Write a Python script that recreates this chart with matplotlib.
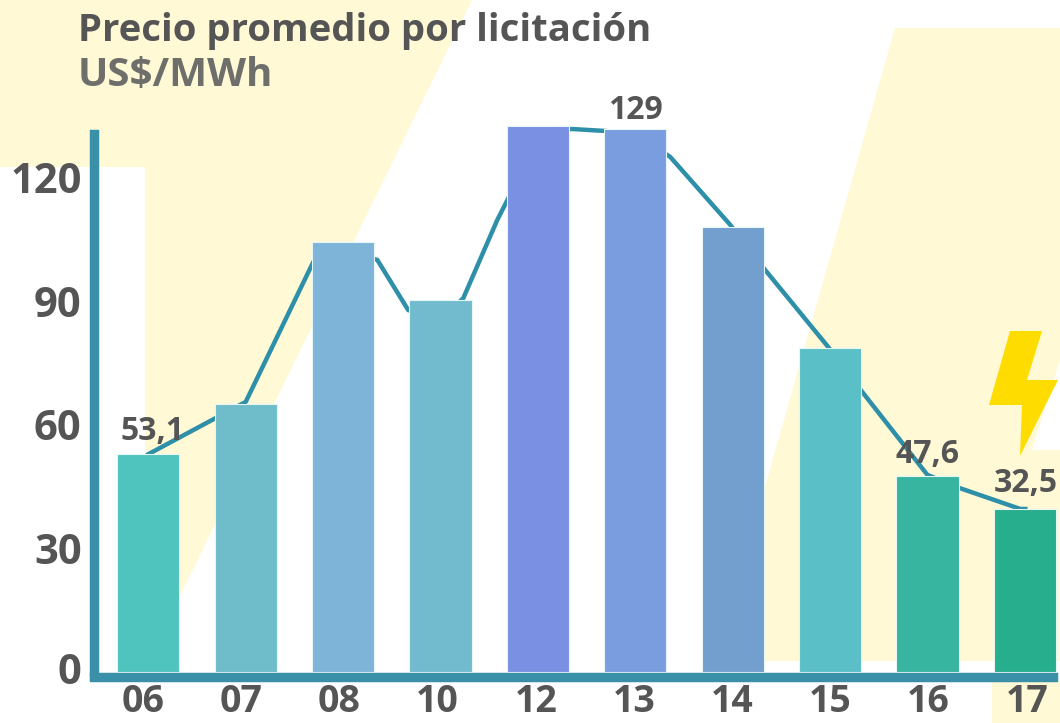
import matplotlib
matplotlib.use('Agg')
import matplotlib.pyplot as plt
from matplotlib.patches import Polygon
from matplotlib.transforms import ScaledTranslation

# datos
years = ['06', '07', '08', '10', '12', '13', '14', '15', '16', '17']
bar_values = [53.0, 65.0, 104.4, 90.4, 132.6, 131.8, 108.0, 78.7, 47.6, 39.6]
bar_colors = ['#4FC3BE', '#6FBCCB', '#7EB4D8', '#72BBCF', '#7A90E2',
              '#7A9DDF', '#729FCE', '#5ABFC6', '#38B5A0', '#27AE8D']
# la linea no pasa justo por los centros, tiene quiebres detras de las barras
line_x = [0, 1, 1.694, 2.023, 2.351, 2.669, 2.998, 3.234, 3.583, 4.025, 4.343,
          4.702, 5.021, 5.359, 5.975, 6.335, 6.982, 7.331, 7.998, 8.327, 8.953, 9.004]
line_values = [52.9, 65.6, 99.6, 102.5, 100.1, 87.9, 85.5, 90.8, 109.8, 130.4, 131.9,
               131.4, 130.4, 125.1, 108.6, 97.6, 78.9, 68.0, 47.9, 44.7, 39.6, 39.6]
yticks = [0, 30, 60, 90, 120]
labels = {0: '53,1', 5: '129', 8: '47,6', 9: '32,5'}
label_offsets = {0: (4, 22), 5: (0, 19), 8: (0, 22), 9: (1, 25)}

W, H = 1060, 723
fig = plt.figure(figsize=(W/100, H/100), dpi=100)
plt.rcParams['font.family'] = ['Open Sans', 'DejaVu Sans']

# fondo en pixeles
bg = fig.add_axes([0, 0, 1, 1], zorder=0)
bg.set_xlim(0, W)
bg.set_ylim(H, 0)
bg.axis('off')
cream = '#FFF9D6'
bg.add_patch(Polygon([(0, 0), (472, 0), (178, 600), (145, 600), (145, 167), (0, 167)],
                     fc=cream, ec='none'))
bg.add_patch(Polygon([(895, 28), (1060, 28), (1060, 360), (1032, 450), (1060, 450),
                      (1060, 661), (765, 661), (765, 487)], fc=cream, ec='none'))
bg.add_patch(Polygon([(992, 681), (1060, 681), (1060, 723), (992, 723)], fc=cream, ec='none'))
bg.add_patch(Polygon([(1010, 331), (1042, 331), (1027, 380), (1058, 380),
                      (1020, 456), (1022, 405), (989, 405)], fc='#FFDC00', ec='none'))

# eje principal: y=0 en pixel 672, 4.117 px por unidad
left, right, base = 94, 1058, 672
x0, dx = 148.3, 97.4
ax = fig.add_axes([left/W, 1 - base/H, (right-left)/W, base/H], zorder=1)
ax.patch.set_alpha(0)
ax.set_ylim(0, base/4.117)
ax.set_xlim((left-x0)/dx, (right-x0)/dx)

x = list(range(len(years)))
ax.plot(line_x, line_values, color='#2E8FA9', lw=3.2, zorder=2, solid_joinstyle='round')
ax.bar(x, bar_values, width=0.64, color=bar_colors, edgecolor='#E6F6F4', linewidth=0.8, zorder=3)

for s in ['top', 'right']:
    ax.spines[s].set_visible(False)
for s in ['left', 'bottom']:
    ax.spines[s].set_color('#3A8FA9')
    ax.spines[s].set_linewidth(6.8)
    ax.spines[s].set_zorder(4)
ax.spines['bottom'].set_position(('outward', 3.4))
ax.spines['bottom'].set_bounds((left-x0)/dx, (right-5-x0)/dx)
ax.spines['left'].set_bounds(0, 130.6)

# las etiquetas del eje x van un poco mas abiertas que las barras
ax.set_xticks([(143 + 98.2*i - x0)/dx for i in x])
ax.set_xticklabels(years)
ax.set_yticks(yticks)
ax.tick_params(axis='both', length=0, labelcolor='#555555')
ax.tick_params(axis='x', pad=4.5, labelsize=27)
ax.tick_params(axis='y', pad=9, labelsize=30)
for t in ax.get_xticklabels() + ax.get_yticklabels():
    t.set_fontweight('bold')
zero = ax.get_yticklabels()[0]
zero.set_transform(zero.get_transform() + ScaledTranslation(0, 4/100, fig.dpi_scale_trans))

for i, txt in labels.items():
    ax.annotate(txt, xy=(i, bar_values[i]), xytext=label_offsets[i], textcoords='offset pixels',
                ha='center', va='center', fontsize=23, fontweight='bold', color='#555555', zorder=5)

fig.text(78/W, 1 - 31/H, 'Precio promedio por licitación', fontsize=27.5, fontweight='bold',
         color='#555555', va='center', ha='left', zorder=5)
fig.text(78/W, 1 - 75/H, 'US$/MWh', fontsize=29, fontweight='bold',
         color='#6E6E6B', va='center', ha='left', zorder=5)

fig.savefig('out.png', dpi=100)
